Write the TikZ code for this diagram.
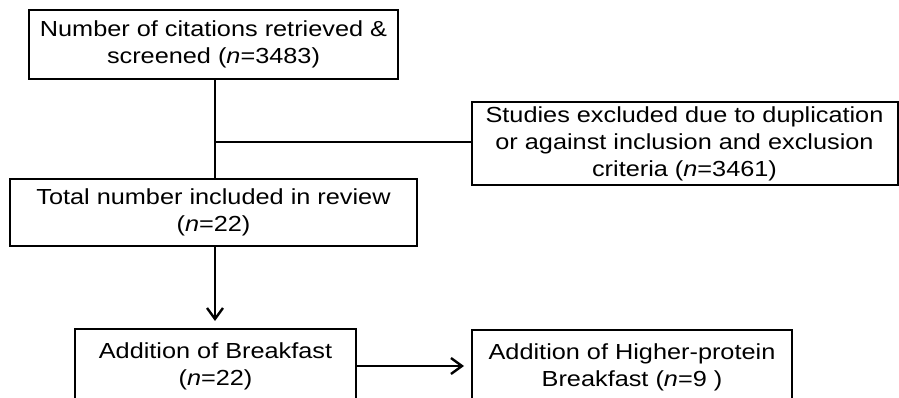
\documentclass[tikz,border=0pt]{standalone}
\usepackage{fontspec}
\setmainfont{Liberation Sans}[FakeStretch=1.16]
\usetikzlibrary{arrows.meta}
\begin{document}
\begin{tikzpicture}[x=1pt,y=-1pt,
  box/.style={draw=black, line width=2pt, rectangle, inner sep=0pt, align=center,
    font=\fontsize{21.8}{27}\selectfont, text=black},
  link/.style={draw=black, line width=2.6pt},
  arr/.style={link, -{Straight Barb[length=11pt,width=16pt,line width=2.4pt]}, shorten >=7pt}]
\clip (0,0) rectangle (899,398);
\fill[white] (0,0) rectangle (899,398);
\node[box, minimum width=369pt, minimum height=69pt] (cite) at (213.5,44.5)
  {Number of citations retrieved \&\\ screened (\textit{n}=3483)};
\node[box, minimum width=426pt, minimum height=83pt] (excl) at (684.5,143.5)
  {Studies excluded due to duplication\\ or against inclusion and exclusion\\ criteria (\textit{n}=3461)};
\node[box, minimum width=407pt, minimum height=67pt] (total) at (213.5,212.5)
  {Total number included in review\\ (\textit{n}=22)};
\node[box, minimum width=281pt, minimum height=74pt] (add) at (215.5,366)
  {Addition of Breakfast\\ (\textit{n}=22)};
\node[box, minimum width=320pt, minimum height=74pt] (hp) at (632,367)
  {Addition of Higher-protein\\ Breakfast (\textit{n}=9 )};
\coordinate (j) at (215,142);
\draw[link] (cite.south -| j) -- (total.north -| j);
\draw[link] (j) -- (j -| excl.west);
\draw[arr] (total.south -| j) -- (add.north -| j);
\draw[arr] (add.east) -- (add.east -| hp.west);
\end{tikzpicture}
\end{document}
